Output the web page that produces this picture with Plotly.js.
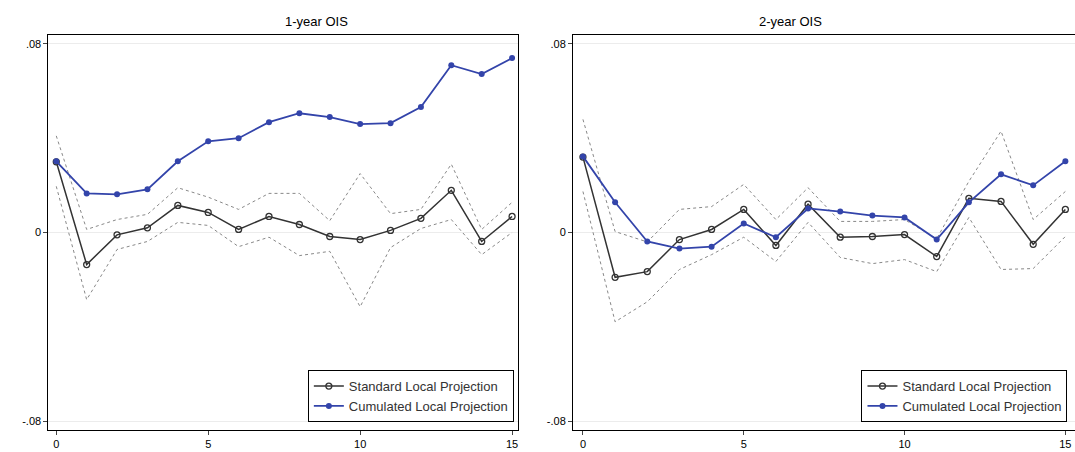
<!DOCTYPE html>
<html>
<head>
<meta charset="utf-8">
<script src="https://cdn.plot.ly/plotly-3.0.1.min.js"></script>
<style>body{margin:0;background:#fff}#chart{width:1075px;height:452px}</style>
</head>
<body>
<div id="chart"></div>
<script>
// ── Data ─────────────────────────────────────
const horizon = [0,1,2,3,4,5,6,7,8,9,10,11,12,13,14,15];

const oneStd   = [0.030,-0.0136,-0.001,0.002,0.0115,0.0085,0.0013,0.0068,0.0034,-0.0017,-0.003,0.0009,0.006,0.0179,-0.0038,0.0068];
const oneUp    = [0.041,0.0013,0.0055,0.0077,0.019,0.015,0.0098,0.0166,0.0166,0.005,0.025,0.008,0.0098,0.029,0.0013,0.0128];
const oneLo    = [0.0196,-0.0285,-0.0072,-0.0038,0.0043,0.003,-0.006,-0.002,-0.0098,-0.008,-0.0315,-0.0064,0.0017,0.0055,-0.0094,0];
const oneCum   = [0.0302,0.0166,0.0162,0.0183,0.0302,0.0387,0.040,0.0468,0.0506,0.049,0.046,0.0464,0.0532,0.071,0.0672,0.074];

const twoStd   = [0.032,-0.019,-0.0166,-0.003,0.0013,0.0098,-0.0055,0.012,-0.002,-0.0017,-0.0009,-0.0102,0.0145,0.0132,-0.005,0.0098];
const twoUp    = [0.048,0.0004,-0.004,0.0098,0.011,0.0204,0.0055,0.019,0.0047,0.0047,0.0055,-0.0026,0.0217,0.043,0.0055,0.0174];
const twoLo    = [0.0174,-0.0379,-0.0294,-0.0157,-0.0094,-0.002,-0.0123,0.0043,-0.0106,-0.0132,-0.0115,-0.0166,0.0064,-0.0157,-0.0153,-0.0017];
const twoCum   = [0.0323,0.0128,-0.0038,-0.0068,-0.006,0.0038,-0.002,0.0102,0.0089,0.0072,0.0064,-0.003,0.0128,0.0247,0.020,0.0302];

const yTicks = [-0.08, 0, 0.08];
const yLabels = ["-.08", "0", ".08"];
const xTicks = [0, 5, 10, 15];

// ── Traces ───────────────────────────────────
function panel(std, up, lo, cum, xa, ya, legend) {
  const ci = (y) => ({
    x: horizon, y, xaxis: xa, yaxis: ya, mode: "lines", showlegend: false,
    line: { color: "#888", width: 1, dash: "dot" }, hoverinfo: "skip",
  });
  return [
    ci(up), ci(lo),
    {
      x: horizon, y: std, xaxis: xa, yaxis: ya, mode: "lines+markers",
      name: "Standard Local Projection", legend,
      line: { color: "#333", width: 1.5 },
      marker: { symbol: "circle-open", size: 6, color: "#333", line: { width: 1.3 } },
    },
    {
      x: horizon, y: cum, xaxis: xa, yaxis: ya, mode: "lines+markers",
      name: "Cumulated Local Projection", legend,
      line: { color: "#3344aa", width: 1.8 },
      marker: { symbol: "circle", size: 6, color: "#3344aa" },
    },
  ];
}

const data = [
  ...panel(oneStd, oneUp, oneLo, oneCum, "x", "y", "legend"),
  ...panel(twoStd, twoUp, twoLo, twoCum, "x2", "y2", "legend2"),
];

// ── Layout ───────────────────────────────────
const xAx = (domain, range) => ({
  domain, range, tickvals: xTicks, ticks: "outside", ticklen: 4,
  showgrid: false, zeroline: false, showline: true, linecolor: "#000", mirror: true,
  tickfont: { size: 11 },
});
const yAx = (anchor) => ({
  anchor, range: [-0.0838, 0.0838], tickvals: yTicks, ticktext: yLabels,
  ticks: "outside", ticklen: 4, showgrid: true, gridcolor: "#ececec",
  zeroline: false, showline: true, linecolor: "#000", mirror: true,
  tickfont: { size: 11 },
});
const legendBox = (x) => ({
  x, y: 0.02, xanchor: "right", yanchor: "bottom",
  bgcolor: "#fff", bordercolor: "#000", borderwidth: 1,
  font: { size: 13, color: "#333" }, tracegroupgap: 0,
});

const layout = {
  width: 1075, height: 452,
  margin: { l: 0, r: 0, t: 35, b: 22 },
  paper_bgcolor: "#fff", plot_bgcolor: "#fff",
  font: { family: "Liberation Sans, Arial, sans-serif", color: "#000" },
  xaxis: { ...xAx([0.045, 0.482], [-0.26, 15.2]), anchor: "y" },
  yaxis: yAx("x"),
  xaxis2: { ...xAx([0.533, 1.0], [-0.31, 15.3]), anchor: "y2" },
  yaxis2: yAx("x2"),
  legend: legendBox(0.478),
  legend2: legendBox(0.993),
  annotations: [
    { text: "1-year OIS", x: 0.2635, y: 1, xref: "paper", yref: "paper", yanchor: "bottom", yshift: 4, showarrow: false, font: { size: 13 } },
    { text: "2-year OIS", x: 0.7665, y: 1, xref: "paper", yref: "paper", yanchor: "bottom", yshift: 4, showarrow: false, font: { size: 13 } },
  ],
};

Plotly.newPlot("chart", data, layout, { displayModeBar: false, staticPlot: true });
</script>
</body>
</html>
